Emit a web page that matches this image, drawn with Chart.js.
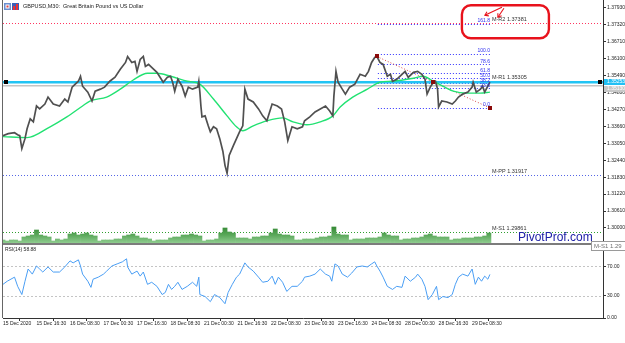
<!DOCTYPE html>
<html><head><meta charset="utf-8">
<script src="https://cdn.jsdelivr.net/npm/chart.js@4.4.1/dist/chart.umd.min.js"></script>
<style>html,body{margin:0;padding:0;background:#fff;overflow:hidden}</style>
</head><body>
<canvas id="c" width="625" height="343"></canvas>
<script>
// ---------- DATA ----------
const symbolTitle = 'GBPUSD,M30:  Great Britain Pound vs US Dollar';
const xTickBars = [0,32,64,96,128,160,192,224,256,288,320,352,384,416,448];
const xTickLabels = ['15 Dec 2020','15 Dec 16:30','16 Dec 08:30','17 Dec 00:30','17 Dec 16:30','18 Dec 08:30','21 Dec 00:30','21 Dec 16:30','22 Dec 08:30','23 Dec 00:30','23 Dec 16:30','24 Dec 08:30','28 Dec 00:30','28 Dec 16:30','29 Dec 08:30'];
const priceTicks = [1.30000,1.30610,1.31220,1.31830,1.32440,1.33050,1.33660,1.34270,1.34880,1.35490,1.36100,1.36710,1.37320,1.37930];
const rsiTicks = [0,30,70];
const rsiLevels = [30,70];

const priceBars = [0,5,11,14,16,18,21,23,26,29,32,35,40,43,48,54,59,62,66,69,72,74,76,81,85,88,93,97,102,107,112,117,119,123,126,128,131,134,136,139,142,147,150,153,157,160,162,164,167,171,174,177,181,186,187,188,189,190,193,196,198,201,204,207,210,212,214,216,220,223,226,229,231,234,239,244,248,252,257,262,266,269,272,276,281,286,288,293,298,303,308,312,315,316,318,320,324,327,331,336,341,346,349,352,355,357,360,363,367,370,372,376,379,384,387,392,396,400,403,405,408,411,413,415,416,419,424,429,432,435,439,444,448,449,452,456,458,460,463,465];
const priceVals = [1.33327,1.33399,1.33434,1.33363,1.33327,1.32864,1.33220,1.33577,1.33934,1.33827,1.34398,1.34291,1.34469,1.34719,1.34469,1.34398,1.34647,1.34540,1.35076,1.35183,1.35290,1.35468,1.35111,1.34897,1.34576,1.34933,1.35004,1.35076,1.35290,1.35432,1.35718,1.35967,1.36182,1.35967,1.36003,1.35646,1.36074,1.36182,1.35825,1.35896,1.35789,1.35611,1.35432,1.35254,1.35432,1.35468,1.35254,1.34933,1.35361,1.35111,1.34754,1.35076,1.35004,1.35076,1.35290,1.34897,1.34398,1.34005,1.34041,1.33684,1.33470,1.33648,1.33577,1.33220,1.32757,1.32257,1.31972,1.32614,1.32971,1.33220,1.33470,1.33684,1.35004,1.34647,1.34540,1.34291,1.34041,1.33863,1.34469,1.34398,1.34291,1.33827,1.33149,1.33648,1.33577,1.33648,1.33863,1.34005,1.34184,1.34291,1.34398,1.34219,1.34041,1.34754,1.35646,1.35254,1.35004,1.34826,1.35076,1.35183,1.35539,1.35468,1.35646,1.35967,1.36146,1.36182,1.35967,1.35896,1.35468,1.35539,1.35290,1.35361,1.35468,1.35646,1.35432,1.35611,1.35646,1.35539,1.35361,1.34826,1.35076,1.35254,1.35290,1.35004,1.34362,1.34576,1.34540,1.34469,1.34576,1.34719,1.34826,1.34897,1.35076,1.35254,1.34897,1.35004,1.35111,1.34897,1.35111,1.35254];

const maBars = [0,23,45,61,76,83,99,112,124,138,147,160,176,188,201,214,223,229,239,252,267,277,290,303,315,322,334,348,360,372,392,401,411,420,430,443,456,465];
const maVals = [1.33292,1.33256,1.33648,1.34005,1.34398,1.34576,1.34719,1.35004,1.35325,1.35575,1.35575,1.35468,1.35290,1.35183,1.34647,1.34041,1.33648,1.33506,1.33684,1.33863,1.33970,1.33827,1.33720,1.33827,1.34041,1.34362,1.34719,1.35004,1.35254,1.35290,1.35397,1.35468,1.35290,1.35111,1.34933,1.34862,1.34862,1.34897];

const rsiBars = [0,4,11,14,18,21,24,28,32,35,38,43,48,54,59,64,67,72,74,76,81,84,86,91,96,99,104,109,114,118,119,123,128,131,134,138,142,147,152,155,158,161,164,167,171,176,181,185,187,188,193,198,202,207,212,215,219,223,226,231,234,239,244,248,253,257,260,263,267,271,276,281,286,288,293,298,303,308,312,314,317,320,324,329,333,338,343,348,352,355,357,360,363,367,372,376,381,384,389,394,396,400,403,406,410,414,416,420,425,429,432,435,439,444,448,451,454,457,460,463,465];
const rsiVals = [45.5,49.7,55.2,42.8,31.7,49.7,66.2,59.3,70.3,66.2,62.1,69.0,62.1,62.1,69.0,77.2,74.5,78.6,70.3,59.3,49.7,41.4,52.4,55.2,59.3,63.4,70.3,73.1,75.9,80.0,69.0,59.3,63.4,56.6,62.1,45.5,48.3,42.8,31.7,34.5,45.5,38.6,42.8,48.3,38.6,42.8,48.3,42.8,55.2,31.7,29.0,22.1,31.7,27.6,19.3,34.5,45.5,55.2,59.3,74.5,69.0,63.4,55.2,48.3,49.7,56.6,45.5,55.2,48.3,35.9,42.8,42.8,49.7,55.2,56.6,59.3,66.2,59.3,56.6,49.7,73.1,70.3,59.3,55.2,60.7,69.0,70.3,69.0,73.1,75.9,70.3,63.4,55.2,42.8,38.6,42.8,41.4,56.6,49.7,55.2,59.3,52.4,42.8,24.8,31.7,42.8,24.8,29.0,27.6,31.7,45.5,55.2,59.3,56.6,66.2,45.5,55.2,49.7,56.6,52.4,58.88];

const volStep = 4;
const volVals = [750,500,750,750,500,1500,1750,2000,3250,2000,1750,1500,500,1000,750,1000,2250,2500,2000,2250,2500,2000,1750,500,750,750,750,1000,1000,1750,2000,2250,1750,1250,1250,1000,500,750,750,750,1250,1500,1500,2000,2000,2250,2000,1750,500,750,750,1000,2500,3750,2750,2500,1250,1250,1250,1000,1500,1500,1750,1750,2500,3500,2250,2000,2000,1750,750,750,1000,1000,1000,1250,1500,1500,1750,4000,2250,2000,2000,750,1000,1000,1000,1250,1250,1250,1500,2500,2000,1750,1750,750,1000,1000,1250,1250,1500,2000,2250,1750,1500,1500,1500,750,1000,1000,1250,1250,1250,1500,1500,1750,2500];
const volBars = volVals.map((_, i) => i * volStep);

const pivotNames = ['M-R2','M-R1','M-PP','M-S1'];
const pivotValues = [1.37381,1.35305,1.31917,1.29861];
const pivotColors = ['#ff3560','#ff3560','#5566e6','#2f9f2f'];

const fibLabels = ['161.8','100.0','78.6','61.8','50.0','38.2','23.6','0.0'];
const fibValues = [1.37359,1.36288,1.35896,1.35575,1.35397,1.35218,1.35040,1.34328];
const fibStartBar = 358, fibEndBar = 465;
const trendBars = [357,411,465];
const trendVals = [1.36182,1.35254,1.34328];

const lineValue = 1.35253, lineLabel = '1.35253';
const bidValue = 1.35130, bidLabel = '1.35130';
const rsiLabel = 'RSI(14) 58.88';
const brand = 'PivotProf.com';
const tipText = 'M-S1 1.29';

// ---------- CHART ----------
const F = 'Liberation Sans, Arial, sans-serif';
const toPts = (xs, ys) => xs.map((b, i) => ({x: b, y: ys[i]}));
const lastBar = priceBars[priceBars.length - 1];

function dotted(ctx, x1, y1, x2, y2, color) {
  ctx.save();
  ctx.strokeStyle = color; ctx.lineWidth = 1; ctx.setLineDash([1, 2]);
  ctx.beginPath(); ctx.moveTo(x1, y1); ctx.lineTo(x2, y2); ctx.stroke();
  ctx.restore();
}
function arrow(ctx, x1, y1, x2, y2) {
  ctx.beginPath(); ctx.moveTo(x1, y1); ctx.lineTo(x2, y2); ctx.stroke();
  const a = Math.atan2(y2 - y1, x2 - x1), L = 4;
  ctx.beginPath();
  ctx.moveTo(x2 - L * Math.cos(a - 0.6), y2 - L * Math.sin(a - 0.6));
  ctx.lineTo(x2, y2);
  ctx.lineTo(x2 - L * Math.cos(a + 0.6), y2 - L * Math.sin(a + 0.6));
  ctx.stroke();
}

const overlay = {
  id: 'overlay',
  beforeDatasetsDraw(chart) {
    const {ctx, chartArea: a, scales} = chart;
    const sx = scales.x, sp = scales.yPrice, sr = scales.yRsi;
    ctx.save();
    rsiLevels.forEach(v => {
      const y = Math.round(sr.getPixelForValue(v)) + 0.5;
      ctx.save(); ctx.strokeStyle = '#c4c4c4'; ctx.lineWidth = 1; ctx.setLineDash([2, 2]);
      ctx.beginPath(); ctx.moveTo(a.left, y); ctx.lineTo(a.right, y); ctx.stroke(); ctx.restore();
    });
    pivotValues.forEach((v, i) => {
      const y = Math.round(sp.getPixelForValue(v)) + 0.5;
      dotted(ctx, a.left, y, a.right, y, pivotColors[i]);
    });
    const fx1 = sx.getPixelForValue(fibStartBar), fx2 = sx.getPixelForValue(fibEndBar);
    fibValues.forEach(v => {
      const y = Math.round(sp.getPixelForValue(v)) + 0.5;
      dotted(ctx, fx1, y, fx2, y, '#3030ff');
    });
    dotted(ctx, sx.getPixelForValue(trendBars[0]), sp.getPixelForValue(trendVals[0]),
      sx.getPixelForValue(trendBars[2]), sp.getPixelForValue(trendVals[2]), '#d84848');
    const yb = sp.getPixelForValue(bidValue);
    ctx.fillStyle = '#c4c4c4'; ctx.fillRect(a.left, Math.round(yb) - 1, a.right - a.left, 1.5);
    const yc = sp.getPixelForValue(lineValue);
    ctx.fillStyle = '#22c4f4'; ctx.fillRect(a.left, Math.round(yc) - 1, a.right - a.left, 2.5);
    ctx.restore();
  },
  afterDatasetsDraw(chart) {
    const {ctx, chartArea: a, scales} = chart;
    const sx = scales.x, sp = scales.yPrice, sr = scales.yRsi;
    ctx.save();
    const lx = sx.getPixelForValue(lastBar) + 2;
    ctx.font = '5.5px ' + F; ctx.fillStyle = '#333'; ctx.textBaseline = 'bottom'; ctx.textAlign = 'left';
    pivotValues.forEach((v, i) => {
      const y = sp.getPixelForValue(v);
      ctx.fillText(pivotNames[i] + ' ' + v.toFixed(5), lx, y - 1);
    });
    ctx.font = '5px ' + F; ctx.fillStyle = '#2d2df0'; ctx.textAlign = 'right';
    const fx2 = sx.getPixelForValue(fibEndBar);
    fibValues.forEach((v, i) => {
      ctx.fillText(fibLabels[i], fx2, sp.getPixelForValue(v) - 0.5);
    });
    ctx.fillStyle = '#8b0a0a';
    trendBars.forEach((b, i) => {
      const px = sx.getPixelForValue(b), py = sp.getPixelForValue(trendVals[i]);
      ctx.fillRect(Math.round(px) - 2, Math.round(py) - 2, 4, 4);
    });
    const yc = Math.round(sp.getPixelForValue(lineValue));
    ctx.fillStyle = '#000';
    ctx.fillRect(a.left + 1, yc - 2, 4, 4);
    ctx.fillRect(a.right - 5, yc - 2, 4, 4);
    const yb = Math.round(sp.getPixelForValue(bidValue));
    ctx.font = '5px ' + F; ctx.textAlign = 'left'; ctx.textBaseline = 'middle';
    ctx.fillStyle = '#c8c8c8'; ctx.fillRect(a.right + 1, yb + 0, 21, 6);
    ctx.fillStyle = '#fff'; ctx.fillText(bidLabel, a.right + 4, yb + 3);
    ctx.fillStyle = '#22c0f4'; ctx.fillRect(a.right + 1, yc - 3, 21, 6);
    ctx.fillStyle = '#fff'; ctx.fillText(lineLabel, a.right + 4, yc);
    ctx.fillStyle = '#7c7c7c'; ctx.fillRect(a.left, Math.round(sr.top) - 1, a.right - a.left, 2);
    ctx.fillStyle = '#666'; ctx.fillRect(a.left - 1, a.top, 1, a.bottom - a.top);
    ctx.fillStyle = '#6b8fd0'; ctx.fillRect(4, 3, 7, 7);
    ctx.fillStyle = '#fff'; ctx.fillRect(5.5, 4.5, 4, 4);
    ctx.fillStyle = '#d44'; ctx.fillRect(6.5, 5.5, 2, 2);
    ctx.fillStyle = '#3c5fb8'; ctx.fillRect(12, 3, 7, 7);
    ctx.fillStyle = '#e33'; ctx.fillRect(13, 6, 2, 4); ctx.fillRect(16, 4, 2, 6);
    ctx.font = '5.5px ' + F; ctx.fillStyle = '#222'; ctx.textBaseline = 'middle';
    ctx.fillText(symbolTitle, 23, 6.5);
    ctx.font = '5px ' + F;
    ctx.fillText(rsiLabel, a.left + 2, sr.top + 6);
    ctx.font = '12px ' + F; ctx.fillStyle = '#1f22a8';
    ctx.fillText(brand, 518, sp.getPixelForValue(pivotValues[3]) + 6);
    const ty = Math.round(sr.top) - 3;
    ctx.fillStyle = '#fff'; ctx.fillRect(591, ty, 40, 10);
    ctx.strokeStyle = '#9a9a9a'; ctx.lineWidth = 1; ctx.strokeRect(591.5, ty + 0.5, 40, 9);
    ctx.font = '6px ' + F; ctx.fillStyle = '#707070';
    ctx.fillText(tipText, 594, ty + 5);
    const yr2 = sp.getPixelForValue(pivotValues[0]);
    const bx = lx - 30, by = yr2 - 18, bw = 87, bh = 33;
    ctx.strokeStyle = '#e8121c'; ctx.lineWidth = 2.4;
    ctx.beginPath(); ctx.roundRect(bx, by, bw, bh, 9); ctx.stroke();
    ctx.lineWidth = 1.1;
    arrow(ctx, lx + 10, by + 2, lx - 7, by + 10);
    arrow(ctx, lx + 12, by + 3, lx + 6, by + 12);
    ctx.restore();
  }
};

const volFill = (c) => {
  const ch = c.chart, ys = ch.scales && ch.scales.yVol;
  if (!ys || !ch.chartArea) return '#5aa85a';
  const g = ch.ctx.createLinearGradient(0, ys.getPixelForValue(4000), 0, ys.getPixelForValue(0));
  g.addColorStop(0, '#358a35'); g.addColorStop(0.5, '#5aa85a'); g.addColorStop(1, '#8fcc8f');
  return g;
};

const tickFont = {family: F, size: 5};
new Chart(document.getElementById('c'), {
  type: 'line',
  data: {
    datasets: [
      {label: 'GBPUSD', data: toPts(priceBars, priceVals), yAxisID: 'yPrice', borderColor: '#505050', borderWidth: 1.7, pointRadius: 0, tension: 0},
      {label: 'MA', data: toPts(maBars, maVals), yAxisID: 'yPrice', borderColor: '#22e272', borderWidth: 1.4, pointRadius: 0, tension: 0.4, cubicInterpolationMode: 'monotone'},
      {label: 'RSI(14)', data: toPts(rsiBars, rsiVals), yAxisID: 'yRsi', borderColor: '#4a9ef4', borderWidth: 1, pointRadius: 0, tension: 0},
      {type: 'bar', label: 'Volume', data: toPts(volBars, volVals), yAxisID: 'yVol', backgroundColor: volFill, borderWidth: 0, barPercentage: 1, categoryPercentage: 1, grouped: false}
    ]
  },
  options: {
    responsive: false, animation: false, events: [],
    layout: {padding: {left: 3, right: 0, top: 0, bottom: 0}},
    plugins: {legend: {display: false}, tooltip: {enabled: false}},
    scales: {
      x: {
        type: 'linear', min: 0, max: 573, offset: false,
        afterBuildTicks: s => { s.ticks = xTickBars.map(v => ({value: v})); },
        afterFit: s => { s.height = 25; s.paddingLeft = 0; s.paddingRight = 0; },
        ticks: {autoSkip: false, maxRotation: 0, minRotation: 0, align: 'start', padding: 0, font: tickFont, color: '#222', callback: (v, i) => xTickLabels[i]},
        grid: {drawOnChartArea: false, drawTicks: true, tickLength: 3, color: '#333', tickColor: '#333'},
        border: {display: true, color: '#333'}
      },
      yPrice: {
        type: 'linear', position: 'right', stack: 'panes', stackWeight: 244, min: 1.29422, max: 1.38218,
        afterBuildTicks: s => { s.ticks = priceTicks.map(v => ({value: v})); },
        afterFit: s => { s.width = 22; s.paddingTop = 0; s.paddingBottom = 0; },
        ticks: {padding: 1, font: tickFont, color: '#222', callback: v => Number(v).toFixed(5)},
        grid: {drawOnChartArea: false, drawTicks: true, tickLength: 3, color: '#333', tickColor: '#333'},
        border: {display: true, color: '#333'}
      },
      yRsi: {
        type: 'linear', position: 'right', stack: 'panes', stackWeight: 74, min: 0, max: 100,
        afterBuildTicks: s => { s.ticks = rsiTicks.map(v => ({value: v})); },
        afterFit: s => { s.width = 22; s.paddingTop = 0; s.paddingBottom = 0; },
        ticks: {padding: 1, font: tickFont, color: '#222', callback: v => Number(v).toFixed(2)},
        grid: {drawOnChartArea: false, drawTicks: true, tickLength: 3, color: '#333', tickColor: '#333'},
        border: {display: true, color: '#333'}
      },
      yVol: {type: 'linear', position: 'left', display: false, min: -18750, max: 60750}
    }
  },
  plugins: [overlay]
});
</script>
</body></html>
